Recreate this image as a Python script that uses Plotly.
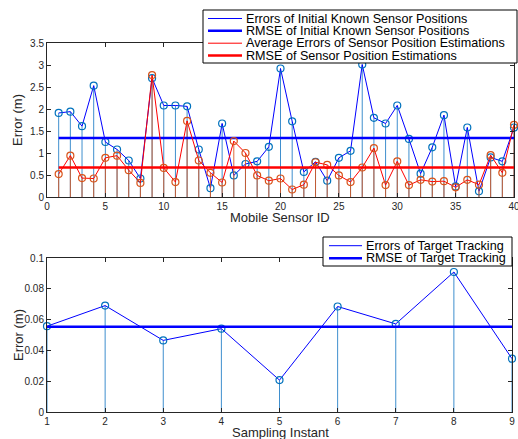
import plotly.graph_objects as go

# ---- data ----
sensor_ids = list(range(1, 41))
initial_errors = [1.91, 1.94, 1.61, 2.53, 1.25, 1.08, 0.83, 0.42, 2.70, 2.08,
                  2.08, 2.06, 1.08, 0.20, 1.67, 0.49, 0.75, 0.81, 1.14, 2.92,
                  1.72, 0.57, 0.80, 0.37, 0.89, 1.05, 3.01, 1.80, 1.67, 2.08,
                  1.32, 0.53, 1.13, 1.86, 0.24, 1.58, 0.13, 0.90, 0.81, 1.58]
estimation_errors = [0.52, 0.94, 0.43, 0.42, 0.89, 0.94, 0.61, 0.32, 2.77, 0.66,
                     0.34, 1.73, 0.83, 0.55, 0.33, 1.27, 1.00, 0.49, 0.37, 0.42,
                     0.17, 0.28, 0.79, 0.73, 0.49, 0.34, 0.67, 1.11, 0.27, 0.81,
                     0.27, 0.39, 0.35, 0.36, 0.22, 0.39, 0.28, 0.95, 0.55, 1.64]
rmse_initial = 1.34
rmse_estimation = 0.67

sampling_instants = list(range(1, 10))
tracking_errors = [0.0557, 0.0691, 0.0465, 0.0541, 0.0207, 0.0685, 0.0572, 0.0909, 0.0346]
rmse_tracking = 0.0554

top_xticks = [0, 5, 10, 15, 20, 25, 30, 35, 40]
top_yticks = [0, 0.5, 1, 1.5, 2, 2.5, 3, 3.5]
bot_xticks = [1, 2, 3, 4, 5, 6, 7, 8, 9]
bot_yticks = [0, 0.02, 0.04, 0.06, 0.08, 0.1]

top_legend_labels = ["Errors of Initial Known Sensor Positions",
                     "RMSE of Initial Known Sensor Positions",
                     "Average Errors of Sensor Position Estimations",
                     "RMSE of Sensor Position Estimations"]
bot_legend_labels = ["Errors of Target Tracking", "RMSE of Target Tracking"]

# ---- styles ----
STEM_BLUE = "#3f8fce"
MARK_BLUE = "#0072BD"
STEM_ORANGE = "#D95319"
LINE_BLUE = "#0000FF"
LINE_RED = "#FF0000"
FONT = "Liberation Sans, Arial, sans-serif"
AXC = "#262626"
W, H = 518, 439


def stems(xs, ys):
    sx, sy = [], []
    for x, y in zip(xs, ys):
        sx += [x, x, None]
        sy += [0, y, None]
    return sx, sy


fig = go.Figure()

# top subplot
sx, sy = stems(sensor_ids, initial_errors)
fig.add_trace(go.Scatter(x=sx, y=sy, mode="lines", line=dict(color=STEM_BLUE, width=1),
                         hoverinfo="skip", xaxis="x", yaxis="y"))
fig.add_trace(go.Scatter(x=sensor_ids, y=initial_errors, mode="lines",
                         line=dict(color=LINE_BLUE, width=1),
                         name=top_legend_labels[0], xaxis="x", yaxis="y"))
fig.add_trace(go.Scatter(x=sensor_ids, y=initial_errors, mode="markers",
                         marker=dict(symbol="circle-open", size=7, color=MARK_BLUE,
                                     line=dict(width=1.2, color=MARK_BLUE)),
                         cliponaxis=False, xaxis="x", yaxis="y"))
sx, sy = stems(sensor_ids, estimation_errors)
fig.add_trace(go.Scatter(x=sx, y=sy, mode="lines", line=dict(color=STEM_ORANGE, width=1),
                         opacity=0.85, hoverinfo="skip", xaxis="x", yaxis="y"))
fig.add_trace(go.Scatter(x=[sensor_ids[0], sensor_ids[-1]], y=[rmse_initial, rmse_initial],
                         mode="lines", line=dict(color=LINE_BLUE, width=2.5),
                         name=top_legend_labels[1], xaxis="x", yaxis="y"))
fig.add_trace(go.Scatter(x=sensor_ids, y=estimation_errors, mode="lines",
                         line=dict(color=LINE_RED, width=1),
                         name=top_legend_labels[2], xaxis="x", yaxis="y"))
fig.add_trace(go.Scatter(x=sensor_ids, y=estimation_errors, mode="markers",
                         marker=dict(symbol="circle-open", size=7, color=STEM_ORANGE,
                                     line=dict(width=1.2, color=STEM_ORANGE)),
                         cliponaxis=False, xaxis="x", yaxis="y"))
fig.add_trace(go.Scatter(x=[sensor_ids[0], sensor_ids[-1]], y=[rmse_estimation, rmse_estimation],
                         mode="lines", line=dict(color=LINE_RED, width=2.5),
                         name=top_legend_labels[3], xaxis="x", yaxis="y"))

# bottom subplot
sx, sy = stems(sampling_instants, tracking_errors)
fig.add_trace(go.Scatter(x=sx, y=sy, mode="lines", line=dict(color=STEM_BLUE, width=1),
                         hoverinfo="skip", xaxis="x2", yaxis="y2"))
fig.add_trace(go.Scatter(x=sampling_instants, y=tracking_errors, mode="lines",
                         line=dict(color=LINE_BLUE, width=1),
                         name=bot_legend_labels[0], xaxis="x2", yaxis="y2"))
fig.add_trace(go.Scatter(x=sampling_instants, y=tracking_errors, mode="markers",
                         marker=dict(symbol="circle-open", size=7, color=MARK_BLUE,
                                     line=dict(width=1.2, color=MARK_BLUE)),
                         cliponaxis=False, xaxis="x2", yaxis="y2"))
fig.add_trace(go.Scatter(x=[sampling_instants[0], sampling_instants[-1]],
                         y=[rmse_tracking, rmse_tracking],
                         mode="lines", line=dict(color=LINE_BLUE, width=2.5),
                         name=bot_legend_labels[1], xaxis="x2", yaxis="y2"))
fig.update_traces(showlegend=False)

top_dom = [(H - 197) / H, (H - 43) / H]
bot_dom = [(H - 412) / H, (H - 258) / H]
x_dom = [47 / W, 514 / W]
x2_dom = [47 / W, 512 / W]

axis_common = dict(showline=True, linecolor=AXC, linewidth=1, mirror="ticks",
                   ticks="inside", ticklen=4, tickcolor=AXC, tickwidth=1,
                   showgrid=False, zeroline=False, automargin=False,
                   ticklabeloverflow="allow",
                   tickfont=dict(family=FONT, size=10, color=AXC))

shapes = []
annotations = []


def px(x):
    return x / W


def py(y):
    return 1 - y / H


def add_legend(box, line_x, text_x, rows, labels, colors, widths):
    x0, y0, x1, y1 = box
    shapes.append(dict(type="rect", xref="paper", yref="paper",
                       x0=px(x0), x1=px(x1), y0=py(y0), y1=py(y1),
                       line=dict(color="#000000", width=1), fillcolor="white", layer="above"))
    for r, lab, c, w in zip(rows, labels, colors, widths):
        shapes.append(dict(type="line", xref="paper", yref="paper",
                           x0=px(line_x[0]), x1=px(line_x[1]), y0=py(r), y1=py(r),
                           line=dict(color=c, width=w), layer="above"))
        annotations.append(dict(text=lab, xref="paper", yref="paper", x=px(text_x), y=py(r),
                                xanchor="left", yanchor="middle", showarrow=False,
                                font=dict(family=FONT, size=12.6, color="#000000")))


add_legend((203, 10, 517, 63), (208, 242), 244, [18.5, 30.8, 43.2, 55.5],
           top_legend_labels, [LINE_BLUE, LINE_BLUE, LINE_RED, LINE_RED], [1, 2.5, 1, 2.5])
add_legend((323, 237, 512, 266), (329, 362), 364, [245.7, 258.3],
           bot_legend_labels, [LINE_BLUE, LINE_BLUE], [1, 2.5])

title_font = dict(family=FONT, size=13, color=AXC)
for text, x, y, ang in [("Mobile Sensor ID", 280, 218, 0), ("Error (m)", 18, 120, -90),
                        ("Sampling Instant", 280, 432, 0), ("Error (m)", 18, 335, -90)]:
    annotations.append(dict(text=text, xref="paper", yref="paper", x=px(x), y=py(y),
                            xanchor="center", yanchor="middle", textangle=ang,
                            showarrow=False, font=title_font))

fig.update_layout(
    width=W, height=H,
    margin=dict(l=0, r=0, t=0, b=0),
    paper_bgcolor="white", plot_bgcolor="white",
    font=dict(family=FONT, color="#000000"),
    showlegend=False,
    xaxis=dict(domain=x_dom, anchor="y", range=[0, 40], tickvals=top_xticks, **axis_common),
    yaxis=dict(domain=top_dom, anchor="x", range=[0, 3.5], tickvals=top_yticks, **axis_common),
    xaxis2=dict(domain=x2_dom, anchor="y2", range=[1, 9], tickvals=bot_xticks, **axis_common),
    yaxis2=dict(domain=bot_dom, anchor="x2", range=[0, 0.1], tickvals=bot_yticks, **axis_common),
    shapes=shapes,
    annotations=annotations,
)

fig.write_html("out.html", config={"displayModeBar": False},
               post_script="document.body.style.margin='0px';document.body.style.overflow='hidden';")
